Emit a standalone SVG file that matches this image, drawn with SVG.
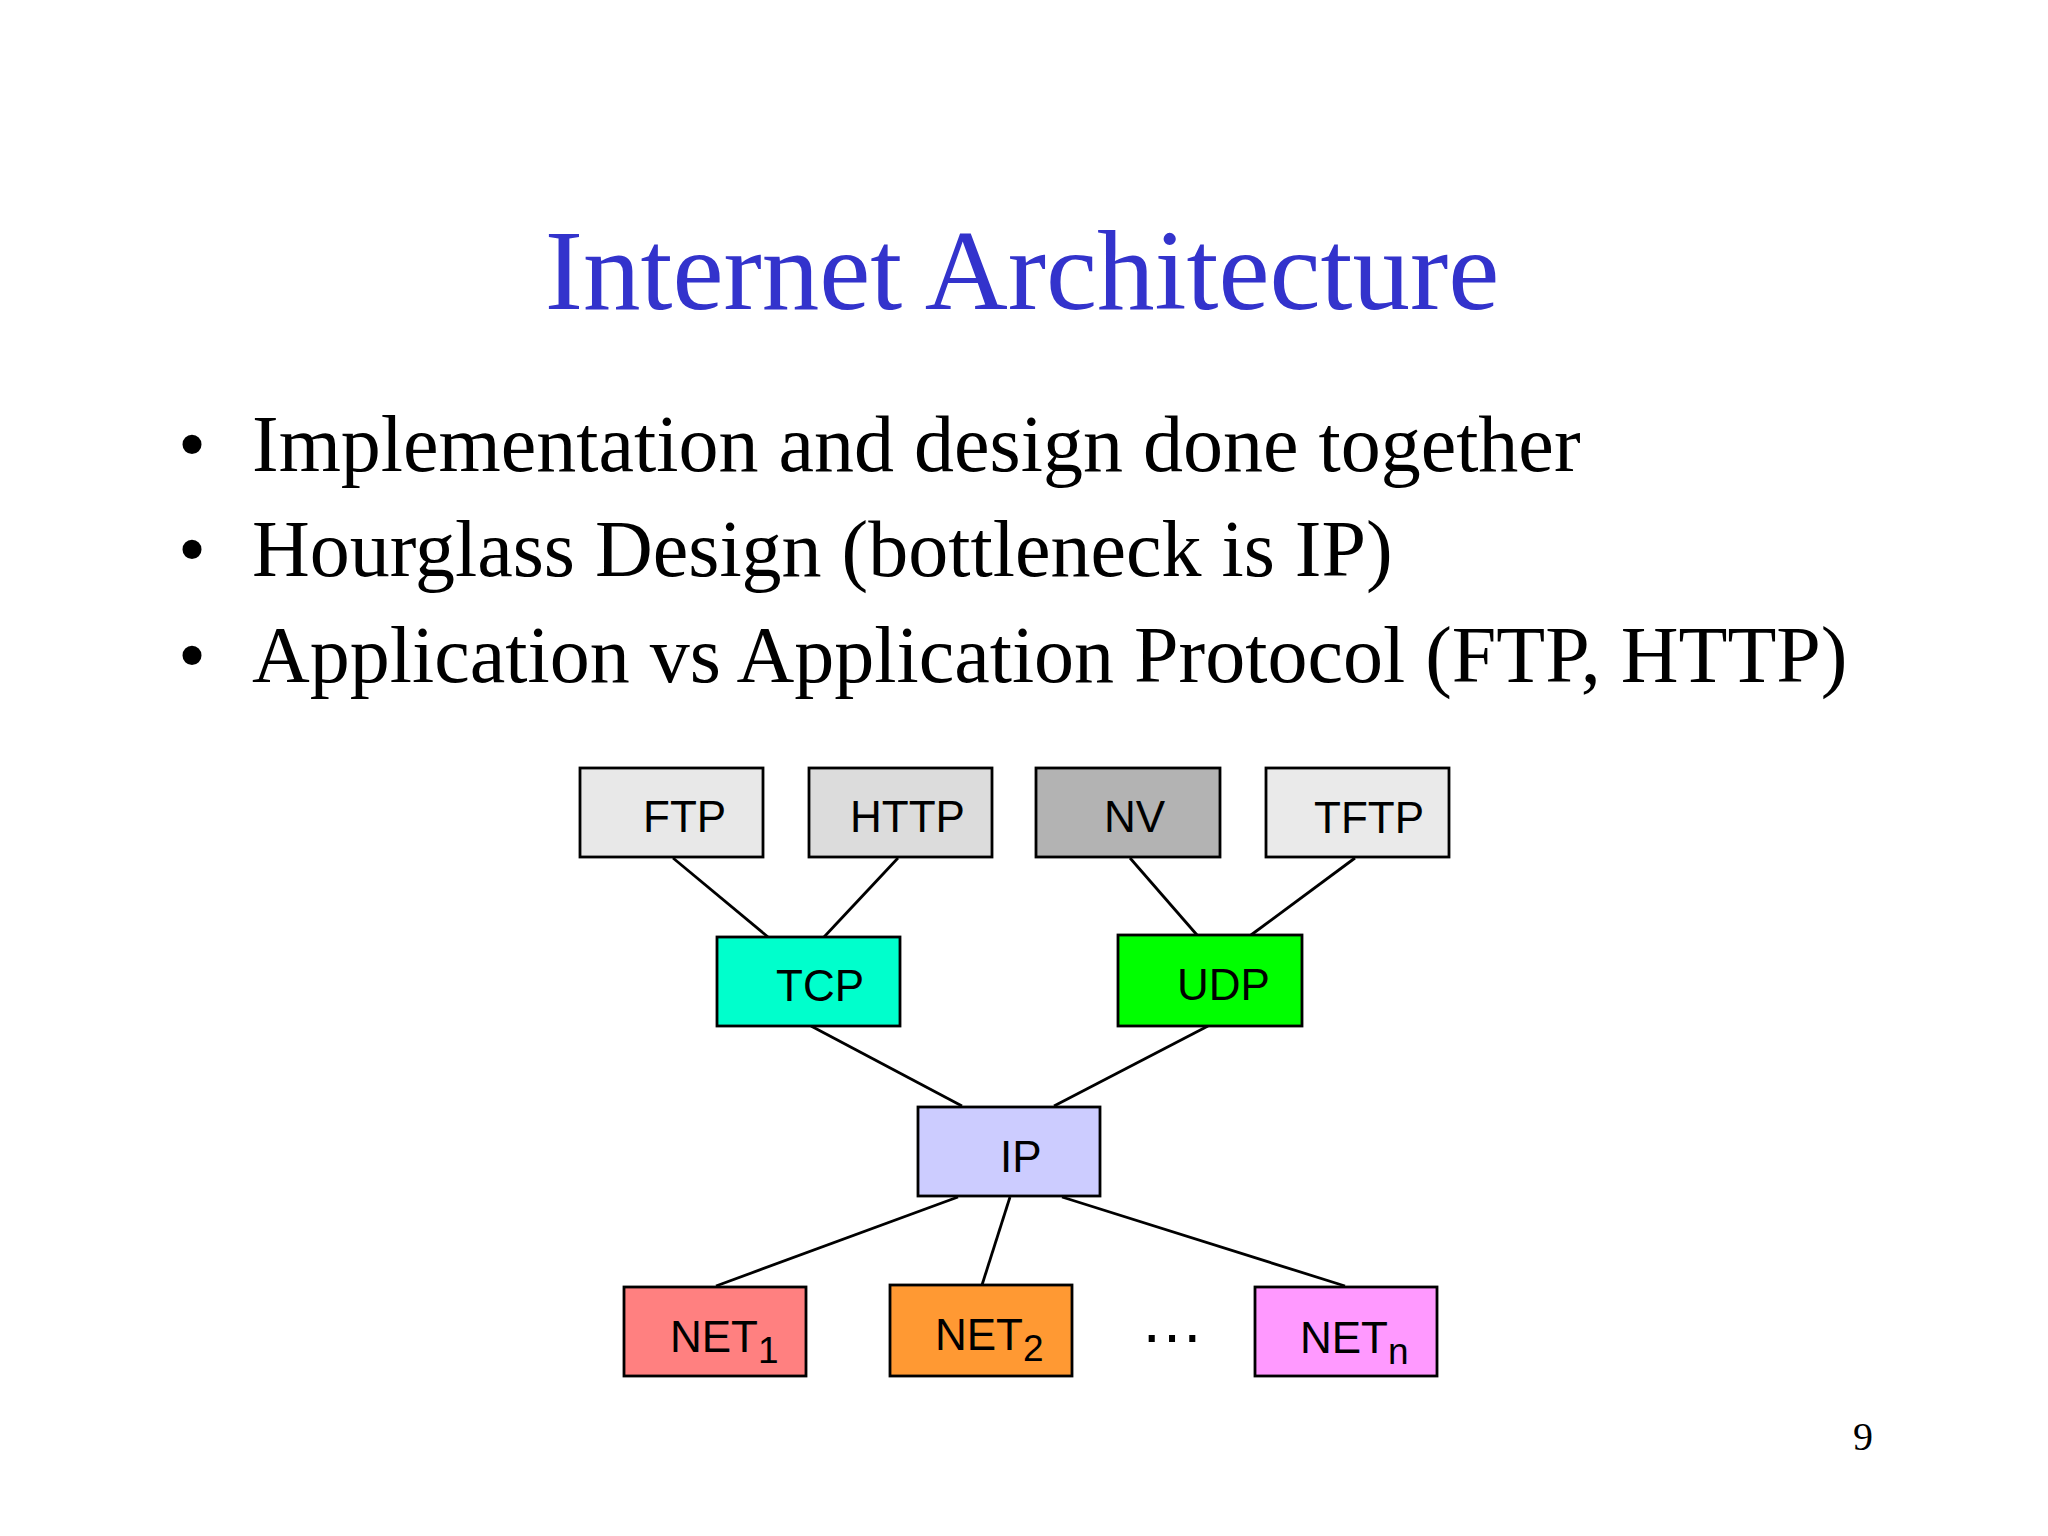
<svg xmlns="http://www.w3.org/2000/svg" width="2048" height="1536" viewBox="0 0 2048 1536">
<style>
.title{font-family:"Liberation Serif","Times New Roman",serif;font-size:115px;fill:#3333cc}
.bul{font-family:"Liberation Serif","Times New Roman",serif;font-size:80px;fill:#000}
.pg{font-family:"Liberation Serif","Times New Roman",serif;font-size:40px;fill:#000}
.box{stroke:#000;stroke-width:2.8}
.lbl{font-family:"Liberation Sans",Arial,sans-serif;font-size:44px;fill:#000}
.sub{font-size:37px}
.conn line{stroke:#000;stroke-width:2.8}
</style>
<rect width="2048" height="1536" fill="#fff"/>
<text class="title" x="1022" y="309" text-anchor="middle">Internet Architecture</text>
<g id="bullets">
<text class="bul" x="178" y="471">•</text>
<text class="bul" x="252" y="471">Implementation and design done together</text>
<text class="bul" x="178" y="576">•</text>
<text class="bul" x="252" y="576">Hourglass Design (bottleneck is IP)</text>
<text class="bul" x="178" y="682">•</text>
<text class="bul" x="252" y="682">Application vs Application Protocol (FTP, HTTP)</text>
</g>
<g id="connectors" class="conn">
<line x1="673" y1="858" x2="768" y2="937"/>
<line x1="898" y1="858" x2="824" y2="937"/>
<line x1="1130" y1="858" x2="1197" y2="935"/>
<line x1="1355" y1="858" x2="1251" y2="935"/>
<line x1="811" y1="1026" x2="962" y2="1106"/>
<line x1="1208" y1="1026" x2="1054" y2="1106"/>
<line x1="958" y1="1197" x2="716" y2="1286"/>
<line x1="1010" y1="1197" x2="982" y2="1285"/>
<line x1="1062" y1="1197" x2="1345" y2="1286"/>
</g>
<g id="FTP"><rect class="box" x="580" y="768" width="183" height="89" fill="#e8e8e8"/><text class="lbl" x="643" y="832">FTP</text></g>
<g id="HTTP"><rect class="box" x="809" y="768" width="183" height="89" fill="#dcdcdc"/><text class="lbl" x="850" y="832">HTTP</text></g>
<g id="NV"><rect class="box" x="1036" y="768" width="184" height="89" fill="#b3b3b3"/><text class="lbl" x="1104" y="832">NV</text></g>
<g id="TFTP"><rect class="box" x="1266" y="768" width="183" height="89" fill="#eaeaea"/><text class="lbl" x="1314" y="833">TFTP</text></g>
<g id="TCP"><rect class="box" x="717" y="937" width="183" height="89" fill="#00ffcc"/><text class="lbl" x="776" y="1001">TCP</text></g>
<g id="UDP"><rect class="box" x="1118" y="935" width="184" height="91" fill="#00ff00"/><text class="lbl" x="1177" y="1000">UDP</text></g>
<g id="IP"><rect class="box" x="918" y="1107" width="182" height="89" fill="#ccccff"/><text class="lbl" x="1000" y="1172">IP</text></g>
<g id="NET1"><rect class="box" x="624" y="1287" width="182" height="89" fill="#ff8080"/><text class="lbl" x="670" y="1352">NET<tspan class="sub" dy="11">1</tspan></text></g>
<g id="NET2"><rect class="box" x="890" y="1285" width="182" height="91" fill="#ff9933"/><text class="lbl" x="935" y="1350">NET<tspan class="sub" dy="11">2</tspan></text></g>
<g id="NETn"><rect class="box" x="1255" y="1287" width="182" height="89" fill="#ff99ff"/><text class="lbl" x="1300" y="1353">NET<tspan class="sub" dy="11">n</tspan></text></g>
<text class="lbl" x="1172" y="1342" text-anchor="middle" style="font-size:64px">…</text>
<text class="pg" x="1853" y="1450">9</text>
</svg>
